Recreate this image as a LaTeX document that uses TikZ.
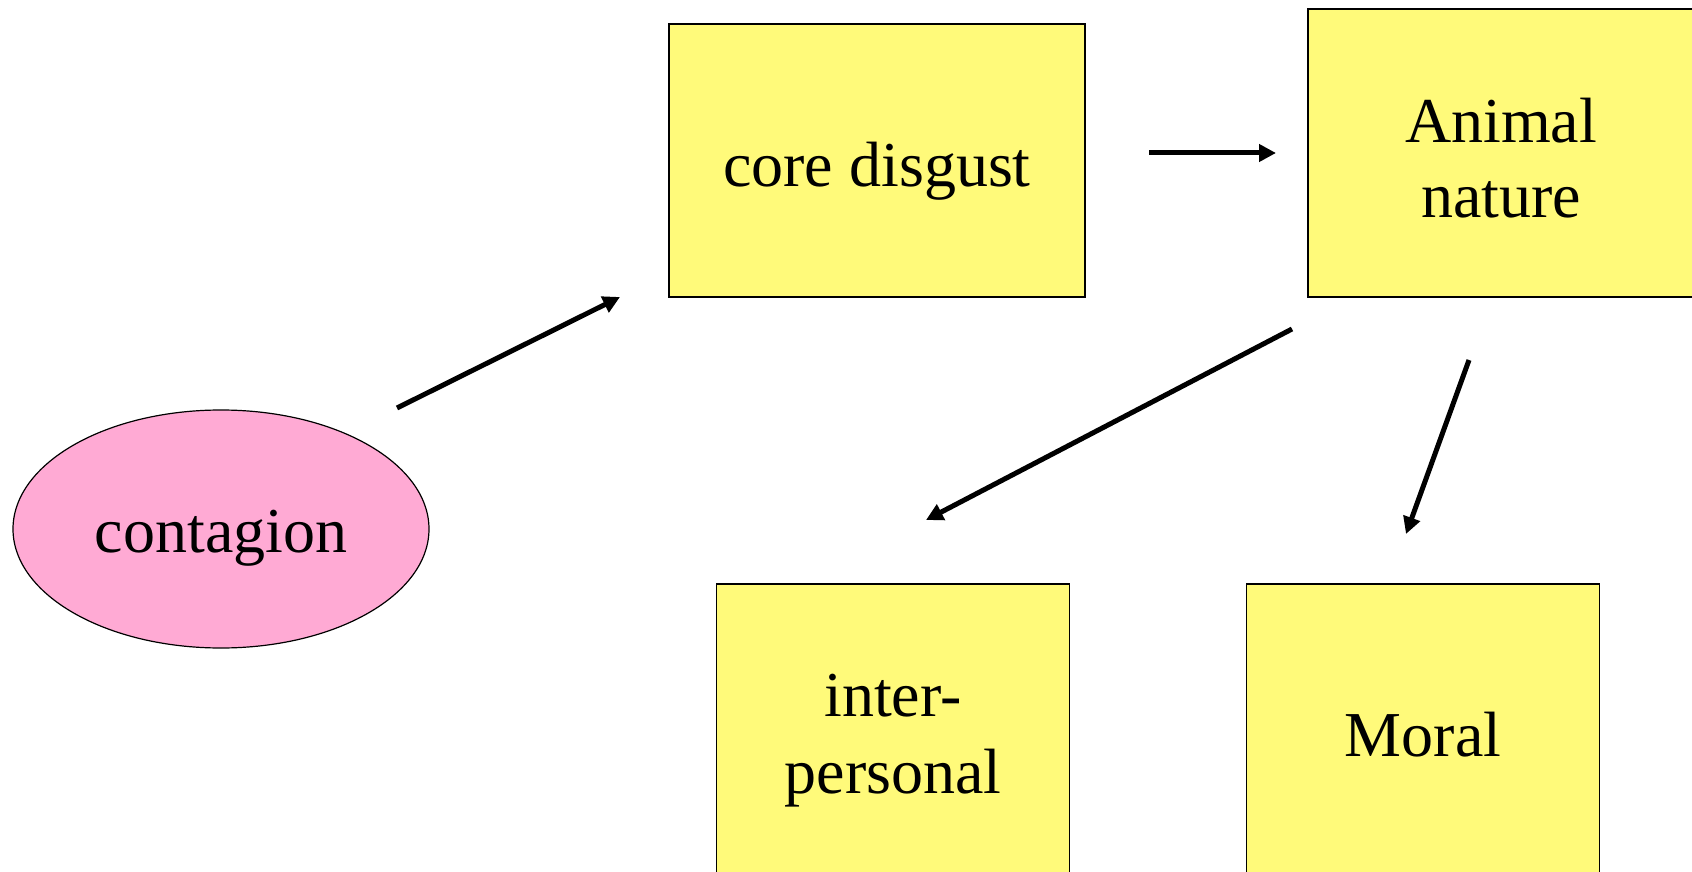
\documentclass[tikz,border=0pt]{standalone}
\usepackage{fontspec}
\setmainfont{Liberation Serif}
\usetikzlibrary{arrows.meta,shapes.geometric}
\definecolor{boxyellow}{RGB}{255,250,122}
\definecolor{blobpink}{RGB}{255,170,212}
\newcommand{\lowered}[2]{\raisebox{-#1}[\height][\depth]{#2}}
\tikzset{
	fact/.style={draw=black, line width=1.5pt, fill=boxyellow, align=center, inner sep=0pt, font=\fontsize{64}{77}\selectfont},
	blob/.style={ellipse, draw=black, line width=1.2pt, fill=blobpink, inner sep=0pt, font=\fontsize{64}{77}\selectfont},
	link/.style={line width=5pt, -{Triangle[length=17pt,width=17pt]}},
}
\begin{document}
\begin{tikzpicture}[x=1pt, y=-1pt]
		\useasboundingbox (0,0) rectangle (1692,872);
		\clip (0,0) rectangle (1692,872);
		
		\node[blob, minimum width=416pt, minimum height=238pt] (contagion) at (221,529) {\lowered{9pt}{contagion}};
		\node[fact, minimum width=416pt, minimum height=273pt] (core) at (877,160.5) {\lowered{11pt}{core disgust}};
		\node[fact, minimum width=386pt, minimum height=288pt] (animal) at (1501,153) {\lowered{6pt}{Animal}\\\lowered{4pt}{nature}};
		\node[fact, minimum width=353pt, minimum height=298pt] (inter) at (893,733) {\lowered{8pt}{inter-}\\\lowered{8pt}{personal}};
		\node[fact, minimum width=353pt, minimum height=298pt] (moral) at (1423,733) {\lowered{2pt}{Moral}};
		
		% arrow ends
		\coordinate (c1) at (397,408);
		\coordinate (c2) at (620,297);
		\coordinate (d1) at (1149,153);
		\coordinate (d2) at (1276,153);
		\coordinate (e1) at (1292,329);
		\coordinate (e2) at (926,520);
		\coordinate (f1) at (1469,360);
		\coordinate (f2) at (1406,534);
		
		\draw[link] (c1) -- (c2);
		\draw[link] (d1) -- (d2);
		\draw[link] (e1) -- (e2);
		\draw[link] (f1) -- (f2);
	\end{tikzpicture}
\end{document}
